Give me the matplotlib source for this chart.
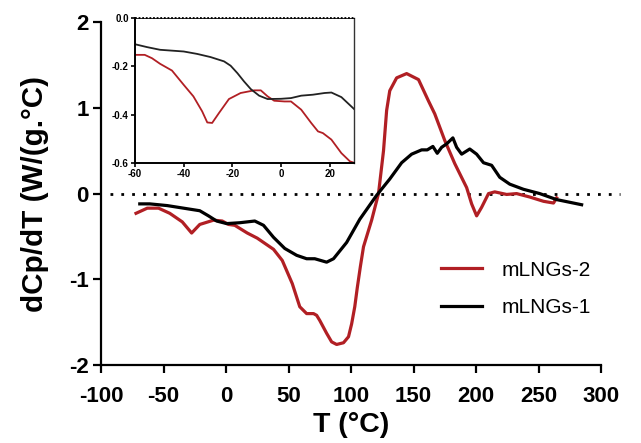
import numpy as np
import matplotlib
matplotlib.use("Agg")
import matplotlib.pyplot as plt

plt.rcParams['font.family'] = ['Liberation Sans', 'DejaVu Sans']
plt.rcParams['axes.unicode_minus'] = False

RED = '#b11f24'

# main curves
t_red = [-72, -63, -54, -45, -35, -27.5, -21, -10, -3, 2, 7, 17, 25, 33, 38, 45, 53,
         59, 64.5, 70, 72.5, 75, 80.5, 84.5, 88.5, 94, 98, 100.5, 103, 105, 107.5,
         110, 116.5, 122, 126, 128.5, 131, 136.5, 144.5, 154, 162, 167, 175, 183,
         192.5, 196.5, 200.5, 204.5, 210, 215, 224.5, 232.5, 243, 254, 262, 264.5]
y_red = [-0.23, -0.17, -0.17, -0.23, -0.33, -0.46, -0.36, -0.31, -0.32, -0.36, -0.37,
         -0.46, -0.52, -0.60, -0.65, -0.78, -1.05, -1.32, -1.40, -1.40, -1.42, -1.48,
         -1.63, -1.73, -1.76, -1.74, -1.67, -1.52, -1.32, -1.10, -0.85, -0.62, -0.31,
         0.0, 0.5, 0.97, 1.20, 1.35, 1.40, 1.33, 1.08, 0.93, 0.62, 0.35, 0.07, -0.12,
         -0.26, -0.16, 0.0, 0.02, -0.01, 0.0, -0.04, -0.09, -0.11, -0.05]

t_blk = [-69, -61, -47, -34, -21, -14, -7.5, 0.5, 11, 23, 30, 38, 47, 56.5, 64.5, 71,
         80.5, 86, 96.5, 107, 120.5, 131, 140.5, 148.5, 156.5, 161, 165.5, 169, 172.5,
         176.5, 181.5, 184.5, 188.5, 195, 200.5, 206, 212.5, 219, 227, 238, 251, 264.5,
         284.5]
y_blk = [-0.12, -0.12, -0.14, -0.17, -0.20, -0.26, -0.32, -0.35, -0.34, -0.32, -0.37,
         -0.51, -0.64, -0.72, -0.76, -0.76, -0.80, -0.76, -0.57, -0.30, -0.02, 0.17,
         0.36, 0.46, 0.51, 0.51, 0.55, 0.47, 0.54, 0.58, 0.65, 0.54, 0.46, 0.52, 0.46,
         0.36, 0.33, 0.19, 0.11, 0.05, 0.0, -0.07, -0.13]

# inset, -60 to 30 degC
ti_red = [-60, -56, -53, -49.7, -44.8, -40, -36, -32.4, -30.3, -28.3, -25.5, -21.4,
          -16.6, -11, -8.3, -5.5, -2.8, 1.4, 4.1, 8.3, 12.4, 15.2, 17.2, 20.7, 24.8,
          28.3, 30.3]
yi_red = [-0.152, -0.152, -0.166, -0.189, -0.217, -0.276, -0.324, -0.386, -0.432,
          -0.434, -0.393, -0.335, -0.310, -0.299, -0.299, -0.324, -0.342, -0.345,
          -0.345, -0.379, -0.434, -0.469, -0.476, -0.503, -0.559, -0.593, -0.600]

ti_blk = [-60, -55, -49.7, -40, -34.5, -29, -23.4, -20.7, -17.9, -15.2, -12.4, -9,
          -5.5, 0, 4.1, 8.3, 13.1, 17.9, 20.7, 24.8, 30.3]
yi_blk = [-0.108, -0.12, -0.131, -0.138, -0.148, -0.161, -0.179, -0.197, -0.228,
          -0.262, -0.294, -0.321, -0.335, -0.334, -0.331, -0.321, -0.317, -0.310,
          -0.308, -0.327, -0.379]

fig = plt.figure(figsize=(6.41, 4.43), dpi=100)
ax = fig.add_axes([0.1576, 0.176, 0.780, 0.774])

ax.plot([-93, 315], [0, 0], color='black', lw=2, dashes=(1, 2.9), clip_on=False)
ax.plot(t_red, y_red, color=RED, lw=2.3, label='mLNGs-2', solid_joinstyle='round')
ax.plot(t_blk, y_blk, color='black', lw=2.3, label='mLNGs-1', solid_joinstyle='round')

ax.set_xlim(-100, 300)
ax.set_ylim(-2, 2)
ax.set_xticks(np.arange(-100, 301, 50))
ax.set_yticks([-2, -1, 0, 1, 2])
for s in ['top', 'right']:
    ax.spines[s].set_visible(False)
for s in ['left', 'bottom']:
    ax.spines[s].set_linewidth(1.6)
ax.tick_params(width=1.6, length=6, labelsize=16, pad=3)
ax.tick_params(axis='x', pad=9)
for lab in ax.get_xticklabels() + ax.get_yticklabels():
    lab.set_fontweight('bold')
ax.set_xlabel('T (°C)', fontsize=20.5, fontweight='bold', labelpad=4)
ax.set_ylabel('dCp/dT (W/(g.°C)', fontsize=21.3, fontweight='bold', labelpad=14)

ax.legend(loc='center left', bbox_to_anchor=(0.643, 0.222), frameon=False, fontsize=15,
          handlelength=1.95, handletextpad=0.95, labelspacing=0.9, borderpad=0.4)

# inset
ins = fig.add_axes([0.2106, 0.632, 0.3417, 0.327])
ins.plot([-60, 30], [0, 0], color='black', lw=1.3, dashes=(1, 1), clip_on=False, zorder=5)
ins.plot(ti_red, yi_red, color=RED, lw=1.3)
ins.plot(ti_blk, yi_blk, color='#222222', lw=1.3)
ins.set_xlim(-60, 30)
ins.set_ylim(-0.6, 0)
ins.set_xticks([-60, -40, -20, 0, 20])
ins.set_yticks([-0.6, -0.4, -0.2, 0.0])
ins.set_yticklabels(['-0.6', '-0.4', '-0.2', '0.0'])
ins.spines['left'].set_linewidth(1.4)
ins.spines['bottom'].set_linewidth(1.4)
ins.spines['right'].set_linewidth(1.0)
ins.spines['right'].set_color('#333333')
ins.spines['top'].set_linewidth(0.6)
ins.tick_params(labelsize=7, length=3, width=1.2, pad=1.5)
for lab in ins.get_xticklabels() + ins.get_yticklabels():
    lab.set_fontweight('bold')

fig.savefig('out.png', dpi=100)
